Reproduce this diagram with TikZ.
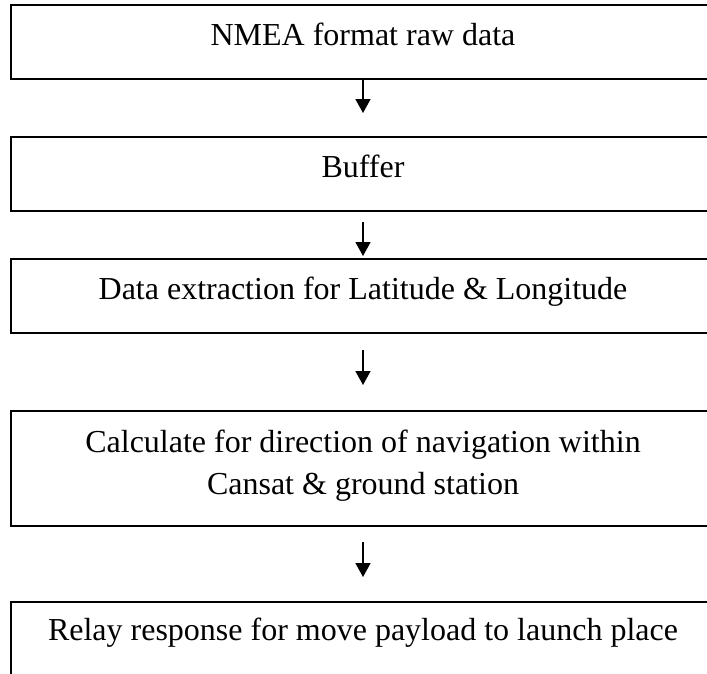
\documentclass[tikz,border=0pt]{standalone}
\usepackage{fontspec}
\setmainfont{Liberation Serif}
\usetikzlibrary{arrows.meta}
\tikzset{
  stagebox/.style={draw=black, line width=1.5pt, rectangle, inner sep=0pt,
    minimum width=703pt},
  stagetext/.style={anchor=base, inner sep=0pt,
    font=\fontsize{32}{42}\selectfont},
  flowarrow/.style={draw=black, line width=1.5pt,
    -{Triangle[width=15pt,length=14pt]}},
}
\begin{document}
\begin{tikzpicture}[x=1pt, y=-1pt]
  \useasboundingbox (0,0) rectangle (707,673);
  \clip (0,0) rectangle (707,673);
  \fill[white] (0,0) rectangle (707,673);

  % process stages
  \node[stagebox, minimum height=74pt]  (b1) at (362.5,42)    {};
  \node[stagebox, minimum height=74pt]  (b2) at (362.5,174)   {};
  \node[stagebox, minimum height=74pt]  (b3) at (362.5,296)   {};
  \node[stagebox, minimum height=115pt] (b4) at (362.5,468.5) {};
  \node[stagebox, minimum height=98pt]  (b5) at (362.5,651)   {};

  % stage labels
  \node[stagetext] (t1)  at (363,45)  {NMEA format raw data};
  \node[stagetext] (t2)  at (363,177) {Buffer};
  \node[stagetext] (t3)  at (363,299) {Data extraction for Latitude \& Longitude};
  \node[stagetext] (t4a) at (363,452) {Calculate for direction of navigation within};
  \node[stagetext] (t4b) at (363,494) {Cansat \& ground station};
  \node[stagetext] (t5)  at (363,640) {Relay response for move payload to launch place};

  % arrow end points
  \coordinate (a1e) at (363,113);
  \coordinate (a2s) at (363,222);
  \coordinate (a2e) at (363,256);
  \coordinate (a3s) at (363,350);
  \coordinate (a3e) at (363,385);
  \coordinate (a4s) at (363,542);
  \coordinate (a4e) at (363,577);

  % flow arrows
  \draw[flowarrow] (b1.south -| a1e) -- (a1e);
  \draw[flowarrow] (a2s) -- (a2e);
  \draw[flowarrow] (a3s) -- (a3e);
  \draw[flowarrow] (a4s) -- (a4e);
\end{tikzpicture}
\end{document}
